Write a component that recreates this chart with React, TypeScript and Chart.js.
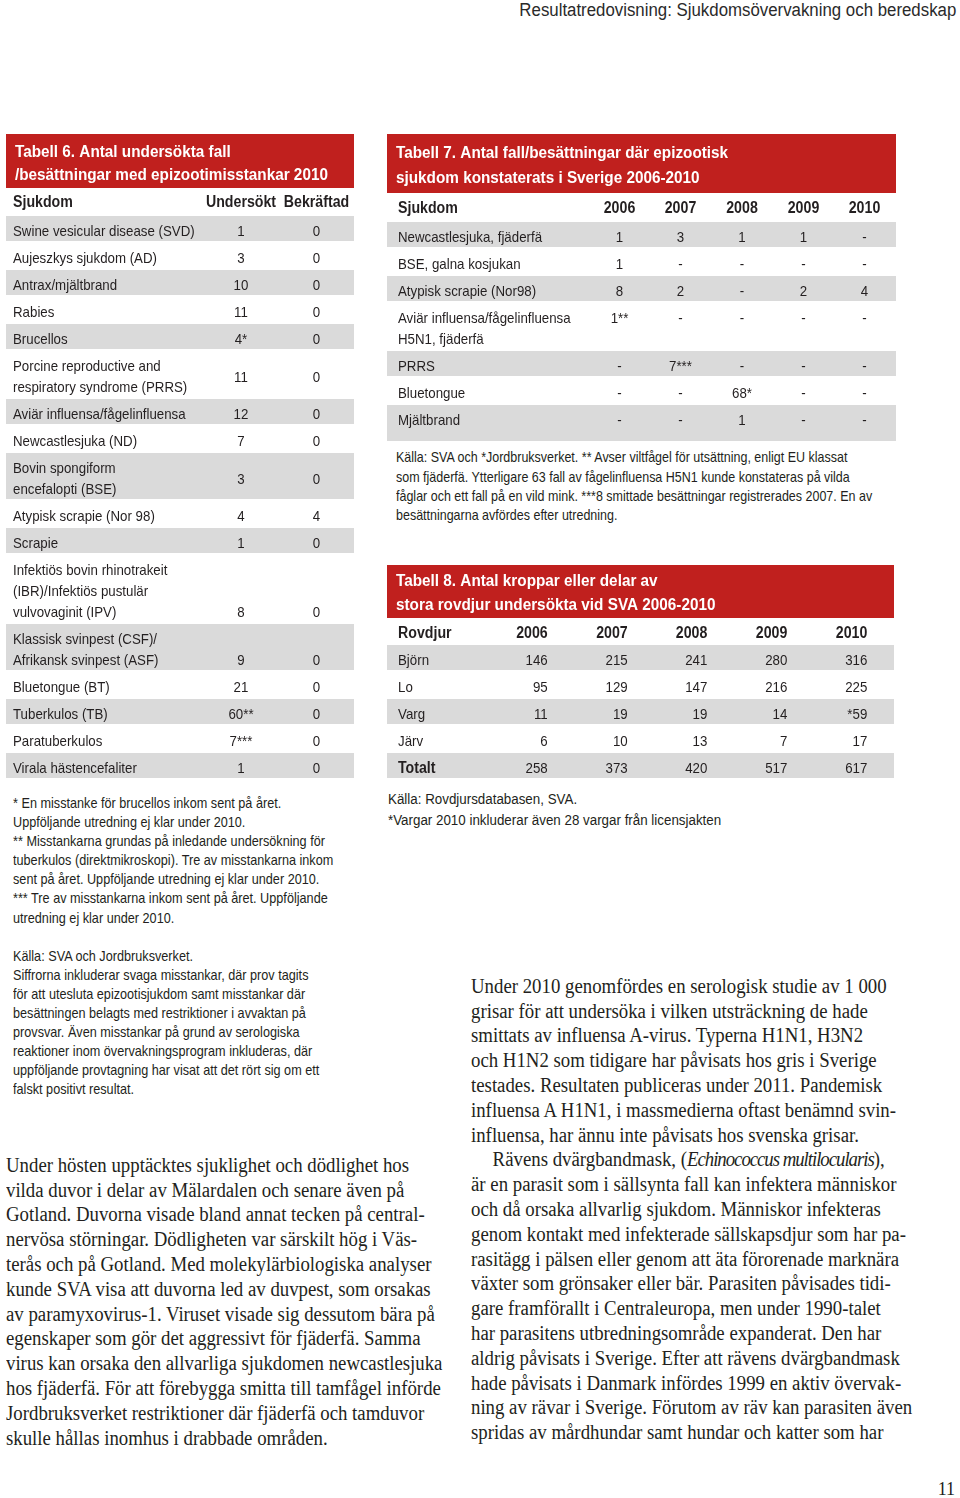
import React, { useEffect, useRef } from "react";
import { Chart, registerables } from "chart.js";

Chart.register(...registerables);

// ---------------- data ----------------
const PAGE_HEADER = "Resultatredovisning: Sjukdomsövervakning och beredskap";
const PAGE_NUMBER = "11";

const T6_TITLE = ["Tabell 6. Antal undersökta fall", "/besättningar med epizootimisstankar 2010"];
const T6_HEADERS = ["Sjukdom", "Undersökt", "Bekräftad"];
const T6_DISEASES = [
  ["Swine vesicular disease (SVD)"],
  ["Aujeszkys sjukdom (AD)"],
  ["Antrax/mjältbrand"],
  ["Rabies"],
  ["Brucellos"],
  ["Porcine reproductive and", "respiratory syndrome (PRRS)"],
  ["Aviär influensa/fågelinfluensa"],
  ["Newcastlesjuka (ND)"],
  ["Bovin spongiform", "encefalopti (BSE)"],
  ["Atypisk scrapie (Nor 98)"],
  ["Scrapie"],
  ["Infektiös bovin rhinotrakeit", "(IBR)/Infektiös pustulär", "vulvovaginit (IPV)"],
  ["Klassisk svinpest (CSF)/", "Afrikansk svinpest (ASF)"],
  ["Bluetongue (BT)"],
  ["Tuberkulos (TB)"],
  ["Paratuberkulos"],
  ["Virala hästencefaliter"],
];
const T6_UNDERSOKT = ["1", "3", "10", "11", "4*", "11", "12", "7", "3", "4", "1", "8", "9", "21", "60**", "7***", "1"];
const T6_BEKRAFTAD = ["0", "0", "0", "0", "0", "0", "0", "0", "0", "4", "0", "0", "0", "0", "0", "0", "0"];
const T6_NOTES = [
  "* En misstanke för brucellos inkom sent på året.",
  "Uppföljande utredning ej klar under 2010.",
  "** Misstankarna grundas på inledande undersökning för",
  "tuberkulos (direktmikroskopi). Tre av misstankarna inkom",
  "sent på året. Uppföljande utredning ej klar under 2010.",
  "*** Tre av misstankarna inkom sent på året. Uppföljande",
  "utredning ej klar under 2010.",
  "",
  "Källa: SVA och Jordbruksverket.",
  "Siffrorna inkluderar svaga misstankar, där prov tagits",
  "för att utesluta epizootisjukdom samt misstankar där",
  "besättningen belagts med restriktioner i avvaktan på",
  "provsvar. Även misstankar på grund av serologiska",
  "reaktioner inom övervakningsprogram inkluderas, där",
  "uppföljande provtagning har visat att det rört sig om ett",
  "falskt positivt resultat.",
];

const T7_TITLE = ["Tabell 7. Antal fall/besättningar där epizootisk", "sjukdom konstaterats i Sverige 2006-2010"];
const T7_HEADERS = ["Sjukdom", "2006", "2007", "2008", "2009", "2010"];
const T7_DISEASES = [
  ["Newcastlesjuka, fjäderfä"],
  ["BSE, galna kosjukan"],
  ["Atypisk scrapie (Nor98)"],
  ["Aviär influensa/fågelinfluensa", "H5N1, fjäderfä"],
  ["PRRS"],
  ["Bluetongue"],
  ["Mjältbrand"],
];
const T7_2006 = ["1", "1", "8", "1**", "-", "-", "-"];
const T7_2007 = ["3", "-", "2", "-", "7***", "-", "-"];
const T7_2008 = ["1", "-", "-", "-", "-", "68*", "1"];
const T7_2009 = ["1", "-", "2", "-", "-", "-", "-"];
const T7_2010 = ["-", "-", "4", "-", "-", "-", "-"];
const T7_NOTES = [
  "Källa: SVA och *Jordbruksverket. ** Avser viltfågel för utsättning, enligt EU klassat",
  "som fjäderfä. Ytterligare 63 fall av fågelinfluensa H5N1 kunde konstateras på vilda",
  "fåglar och ett fall på en vild mink. ***8 smittade besättningar registrerades 2007. En av",
  "besättningarna avfördes efter utredning.",
];

const T8_TITLE = ["Tabell 8. Antal kroppar eller delar av", "stora rovdjur undersökta vid SVA 2006-2010"];
const T8_HEADERS = ["Rovdjur", "2006", "2007", "2008", "2009", "2010"];
const T8_ANIMALS = [["Björn"], ["Lo"], ["Varg"], ["Järv"], ["Totalt"]];
const T8_2006 = ["146", "95", "11", "6", "258"];
const T8_2007 = ["215", "129", "19", "10", "373"];
const T8_2008 = ["241", "147", "19", "13", "420"];
const T8_2009 = ["280", "216", "14", "7", "517"];
const T8_2010 = ["316", "225", "*59", "17", "617"];
const T8_NOTES = ["Källa: Rovdjursdatabasen, SVA.", "*Vargar 2010 inkluderar även 28 vargar från licensjakten"];

const PROSE_LEFT = [
  "Under hösten upptäcktes sjuklighet och dödlighet hos",
  "vilda duvor i delar av Mälardalen och senare även på",
  "Gotland. Duvorna visade bland annat tecken på central-",
  "nervösa störningar. Dödligheten var särskilt hög i Väs-",
  "terås och på Gotland. Med molekylärbiologiska analyser",
  "kunde SVA visa att duvorna led av duvpest, som orsakas",
  "av paramyxovirus-1. Viruset visade sig dessutom bära på",
  "egenskaper som gör det aggressivt för fjäderfä. Samma",
  "virus kan orsaka den allvarliga sjukdomen newcastlesjuka",
  "hos fjäderfä. För att förebygga smitta till tamfågel införde",
  "Jordbruksverket restriktioner där fjäderfä och tamduvor",
  "skulle hållas inomhus i drabbade områden.",
];
const PROSE_RIGHT = [
  "Under 2010 genomfördes en serologisk studie av 1 000",
  "grisar för att undersöka i vilken utsträckning de hade",
  "smittats av influensa A-virus. Typerna H1N1, H3N2",
  "och H1N2 som tidigare har påvisats hos gris i Sverige",
  "testades. Resultaten publiceras under 2011. Pandemisk",
  "influensa A H1N1, i massmedierna oftast benämnd svin-",
  "influensa, har ännu inte påvisats hos svenska grisar.",
  "Rävens dvärgbandmask, (Echinococcus multilocularis),",
  "är en parasit som i sällsynta fall kan infektera människor",
  "och då orsaka allvarlig sjukdom. Människor infekteras",
  "genom kontakt med infekterade sällskapsdjur som har pa-",
  "rasitägg i pälsen eller genom att äta förorenade marknära",
  "växter som grönsaker eller bär. Parasiten påvisades tidi-",
  "gare framförallt i Centraleuropa, men under 1990-talet",
  "har parasitens utbredningsområde expanderat. Den har",
  "aldrig påvisats i Sverige. Efter att rävens dvärgbandmask",
  "hade påvisats i Danmark infördes 1999 en aktiv övervak-",
  "ning av rävar i Sverige. Förutom av räv kan parasiten även",
  "spridas av mårdhundar samt hundar och katter som har",
];
const ITALIC_TERM = "Echinococcus multilocularis";

// ---------------- styles ----------------
const RED = "#c0201e";
const GREY = "#dadada";
const INK = "#231f20";
const SANS = '"Liberation Sans", Arial, sans-serif';
const SERIF = '"Liberation Serif", "Times New Roman", serif';
const SX = 0.886; // horizontal squeeze: condensed look
const TITLE_SX = 0.9;
const CELL_SIZE = 15;
const HEAD_SIZE = 16;
const TITLE_SIZE = 17;
const ROW_PITCH = 27;
const LINE_STEP = 21;
const BASE_OFF = 21;

type Layout = {
  left: number;
  top: number;
  width: number;
  height: number;
  titleBottom: number;
  titleBaselines: number[];
  titleX: number;
  headerBaseline: number;
  labelX: number;
  rowsTop: number;
  lastRowExtra: number;
  colX: number[];
  colAlign: CanvasTextAlign;
  valueLine: (row: number, lines: number) => number;
  boldRows: number[];
};

const T6_LAYOUT: Layout = {
  left: 6, top: 134, width: 348, height: 647,
  titleBottom: 54, titleBaselines: [23, 46], titleX: 9,
  headerBaseline: 73, labelX: 7, rowsTop: 81, lastRowExtra: 0,
  colX: [235, 310.5], colAlign: "center",
  valueLine: (row, lines) => (row === 11 || row === 12 ? lines - 1 : (lines - 1) / 2),
  boldRows: [],
};
const T7_LAYOUT: Layout = {
  left: 387, top: 134, width: 509, height: 309,
  titleBottom: 59, titleBaselines: [24, 49], titleX: 9,
  headerBaseline: 79, labelX: 11, rowsTop: 87, lastRowExtra: 11,
  colX: [232.5, 293.5, 355, 416.5, 477.5], colAlign: "center",
  valueLine: () => 0,
  boldRows: [],
};
const T8_LAYOUT: Layout = {
  left: 387, top: 565, width: 507, height: 215,
  titleBottom: 53, titleBaselines: [21, 45], titleX: 9,
  headerBaseline: 73, labelX: 11, rowsTop: 79, lastRowExtra: 0,
  colX: [160.7, 240.7, 320.3, 400.3, 480.3], colAlign: "right",
  valueLine: () => 0,
  boldRows: [4],
};

function drawText(
  ctx: CanvasRenderingContext2D,
  text: string,
  x: number,
  y: number,
  font: string,
  color: string,
  align: CanvasTextAlign,
  sx: number
) {
  ctx.save();
  ctx.font = font;
  ctx.fillStyle = color;
  ctx.textAlign = align;
  ctx.textBaseline = "alphabetic";
  ctx.translate(x, y);
  ctx.scale(sx, 1);
  ctx.fillText(text, 0, 0);
  ctx.restore();
}

type TableProps = {
  title: string[];
  headers: string[];
  labels: string[][];
  columns: string[][];
  layout: Layout;
};

function TableChart({ title, headers, labels, columns, layout }: TableProps) {
  const ref = useRef<HTMLCanvasElement | null>(null);
  useEffect(() => {
    const canvas = ref.current;
    if (!canvas) return;
    const L = layout;
    // row geometry from the number of label lines
    let t = L.rowsTop;
    const rows = labels.map((lines) => {
      const top = t;
      t += ROW_PITCH + LINE_STEP * (lines.length - 1);
      return { top, bottom: t };
    });
    const common = {
      grouped: false,
      barPercentage: 1,
      categoryPercentage: 1,
      borderWidth: 0,
      inflateAmount: 0,
    };
    const datasets: any[] = [
      { ...common, label: "title", data: [[0, L.titleBottom]], backgroundColor: RED },
    ];
    rows.forEach((r, i) => {
      if (i % 2 === 0) {
        const extra = i === rows.length - 1 ? L.lastRowExtra : 0;
        datasets.push({
          ...common,
          label: "row" + i,
          data: [[r.top + 1, r.bottom - 1 + extra]],
          backgroundColor: GREY,
        });
      }
    });

    const textPlugin = {
      id: "tableText",
      afterDatasetsDraw(chart: any) {
        const ctx: CanvasRenderingContext2D = chart.ctx;
        const area = chart.chartArea;
        const ys = chart.scales.y;
        const X = (v: number) => area.left + v;
        const Y = (v: number) => ys.getPixelForValue(v);
        const cell = `${CELL_SIZE}px ${SANS}`;
        const head = `bold ${HEAD_SIZE}px ${SANS}`;
        title.forEach((line, i) =>
          drawText(ctx, line, X(L.titleX), Y(L.titleBaselines[i]), `bold ${TITLE_SIZE}px ${SANS}`, "#ffffff", "left", TITLE_SX)
        );
        drawText(ctx, headers[0], X(L.labelX), Y(L.headerBaseline), head, INK, "left", SX);
        headers.slice(1).forEach((h, j) =>
          drawText(ctx, h, X(L.colX[j]), Y(L.headerBaseline), head, INK, L.colAlign, SX)
        );
        rows.forEach((r, i) => {
          const lines = labels[i];
          const bold = L.boldRows.includes(i);
          lines.forEach((line, k) =>
            drawText(ctx, line, X(L.labelX), Y(r.top + BASE_OFF + k * LINE_STEP), bold ? head : cell, INK, "left", SX)
          );
          const li = L.valueLine(i, lines.length);
          columns.forEach((col, j) =>
            drawText(ctx, col[i], X(L.colX[j]), Y(r.top + BASE_OFF + li * LINE_STEP), cell, INK, L.colAlign, SX)
          );
        });
      },
    };

    const chart = new Chart(canvas, {
      type: "bar",
      data: { labels: ["tabell"], datasets },
      options: {
        animation: false,
        responsive: false,
        maintainAspectRatio: false,
        events: [],
        layout: { padding: 0 },
        plugins: {
          legend: { display: false },
          tooltip: { enabled: false },
          title: { display: false },
        },
        scales: {
          x: { type: "category", display: false, offset: true, grid: { display: false } },
          y: { type: "linear", display: false, reverse: true, min: 0, max: L.height, grid: { display: false } },
        },
      } as any,
      plugins: [textPlugin],
    });
    return () => chart.destroy();
  }, []);
  return (
    <canvas
      ref={ref}
      width={layout.width}
      height={layout.height}
      style={{ position: "absolute", left: layout.left, top: layout.top, width: layout.width, height: layout.height }}
    />
  );
}

// baseline -> top of a block for given font metrics
function sansTop(baseline: number, size: number, lh: number) {
  return baseline - ((lh - 1.117 * size) / 2 + 0.905 * size);
}
function serifTop(baseline: number, size: number, lh: number) {
  return baseline - ((lh - 1.107 * size) / 2 + 0.891 * size);
}

type LinesProps = {
  lines: string[];
  left: number;
  top: number;
  size: number;
  lh: number;
  family: string;
  sx: number;
  render?: (line: string, i: number) => React.ReactNode;
};
function Lines({ lines, left, top, size, lh, family, sx, render }: LinesProps) {
  return (
    <div
      style={{
        position: "absolute",
        left,
        top,
        fontFamily: family,
        fontSize: size,
        lineHeight: `${lh}px`,
        color: INK,
        whiteSpace: "pre",
        transform: `scaleX(${sx})`,
        transformOrigin: "0 0",
      }}
    >
      {lines.map((l, i) => (
        <div key={i} style={{ height: lh }}>
          {render ? render(l, i) : l || "\u00a0"}
        </div>
      ))}
    </div>
  );
}

export default function App() {
  const proseSize = 20;
  const proseLh = 24.8;
  const proseSx = 0.94;
  const renderRight = (line: string, i: number) => {
    if (line.includes(ITALIC_TERM)) {
      const [a, b] = line.split(ITALIC_TERM);
      return (
        <span style={{ paddingLeft: 23 }}>
          {a}
          <i style={{ letterSpacing: "-1.1px" }}>{ITALIC_TERM}</i>
          {b}
        </span>
      );
    }
    return line;
  };
  return (
    <div
      style={{
        position: "absolute",
        left: 0,
        top: 0,
        width: 960,
        height: 1498,
        background: "#ffffff",
        overflow: "hidden",
      }}
    >
      <div
        style={{
          position: "absolute",
          right: 4,
          top: 1,
          fontFamily: SANS,
          fontSize: 18,
          lineHeight: "18px",
          color: "#2a2a2a",
          whiteSpace: "pre",
          transform: "scaleX(0.935)",
          transformOrigin: "100% 0",
        }}
      >
        {PAGE_HEADER}
      </div>

      <TableChart
        title={T6_TITLE}
        headers={T6_HEADERS}
        labels={T6_DISEASES}
        columns={[T6_UNDERSOKT, T6_BEKRAFTAD]}
        layout={T6_LAYOUT}
      />
      <TableChart
        title={T7_TITLE}
        headers={T7_HEADERS}
        labels={T7_DISEASES}
        columns={[T7_2006, T7_2007, T7_2008, T7_2009, T7_2010]}
        layout={T7_LAYOUT}
      />
      <TableChart
        title={T8_TITLE}
        headers={T8_HEADERS}
        labels={T8_ANIMALS}
        columns={[T8_2006, T8_2007, T8_2008, T8_2009, T8_2010]}
        layout={T8_LAYOUT}
      />

      <Lines lines={T6_NOTES} left={13} top={sansTop(808.5, 14.3, 19.1)} size={14.3} lh={19.1} family={SANS} sx={SX} />
      <Lines lines={T7_NOTES} left={396} top={sansTop(463, 14.1, 19.3)} size={14.1} lh={19.3} family={SANS} sx={SX} />
      <Lines lines={T8_NOTES} left={388} top={sansTop(804, 15.1, 21)} size={15.1} lh={21} family={SANS} sx={0.885} />

      <Lines
        lines={PROSE_LEFT}
        left={6}
        top={serifTop(1172, proseSize, proseLh)}
        size={proseSize}
        lh={proseLh}
        family={SERIF}
        sx={proseSx}
      />
      <Lines
        lines={PROSE_RIGHT}
        left={471}
        top={serifTop(993, proseSize, proseLh)}
        size={proseSize}
        lh={proseLh}
        family={SERIF}
        sx={proseSx}
        render={renderRight}
      />

      <div
        style={{
          position: "absolute",
          right: 5,
          top: serifTop(1495, 18, 18),
          fontFamily: SERIF,
          fontSize: 18,
          lineHeight: "18px",
          color: INK,
        }}
      >
        {PAGE_NUMBER}
      </div>
    </div>
  );
}
